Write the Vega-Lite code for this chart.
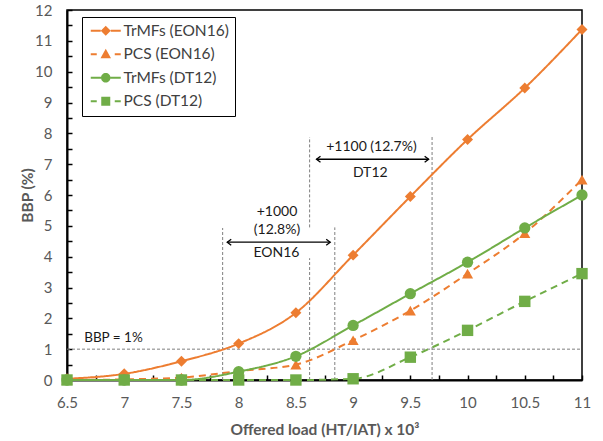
{
  "$schema": "https://vega.github.io/schema/vega-lite/v6.json",
  "width": 515,
  "height": 370,
  "autosize": "none",
  "padding": {"left": 67, "top": 10, "right": 21, "bottom": 61},
  "background": "white",
  "config": {
    "font": "Lato",
    "view": {"stroke": "black", "strokeWidth": 1.5}
  },
  "datasets": {
    "series": [
      {"load": 6.5, "series": "TrMFs (EON16)", "bbp": 0.04},
      {"load": 7, "series": "TrMFs (EON16)", "bbp": 0.2},
      {"load": 7.5, "series": "TrMFs (EON16)", "bbp": 0.61},
      {"load": 8, "series": "TrMFs (EON16)", "bbp": 1.18},
      {"load": 8.5, "series": "TrMFs (EON16)", "bbp": 2.18},
      {"load": 9, "series": "TrMFs (EON16)", "bbp": 4.05},
      {"load": 9.5, "series": "TrMFs (EON16)", "bbp": 5.95},
      {"load": 10, "series": "TrMFs (EON16)", "bbp": 7.8},
      {"load": 10.5, "series": "TrMFs (EON16)", "bbp": 9.47},
      {"load": 11, "series": "TrMFs (EON16)", "bbp": 11.37},
      {"load": 6.5, "series": "PCS (EON16)", "bbp": 0},
      {"load": 7, "series": "PCS (EON16)", "bbp": 0.02},
      {"load": 7.5, "series": "PCS (EON16)", "bbp": 0.08},
      {"load": 8, "series": "PCS (EON16)", "bbp": 0.29},
      {"load": 8.5, "series": "PCS (EON16)", "bbp": 0.5},
      {"load": 9, "series": "PCS (EON16)", "bbp": 1.29},
      {"load": 9.5, "series": "PCS (EON16)", "bbp": 2.25},
      {"load": 10, "series": "PCS (EON16)", "bbp": 3.45},
      {"load": 10.5, "series": "PCS (EON16)", "bbp": 4.76},
      {"load": 11, "series": "PCS (EON16)", "bbp": 6.5},
      {"load": 6.5, "series": "TrMFs (DT12)", "bbp": 0},
      {"load": 7, "series": "TrMFs (DT12)", "bbp": 0},
      {"load": 7.5, "series": "TrMFs (DT12)", "bbp": 0},
      {"load": 8, "series": "TrMFs (DT12)", "bbp": 0.27},
      {"load": 8.5, "series": "TrMFs (DT12)", "bbp": 0.77},
      {"load": 9, "series": "TrMFs (DT12)", "bbp": 1.77},
      {"load": 9.5, "series": "TrMFs (DT12)", "bbp": 2.8},
      {"load": 10, "series": "TrMFs (DT12)", "bbp": 3.82},
      {"load": 10.5, "series": "TrMFs (DT12)", "bbp": 4.93},
      {"load": 11, "series": "TrMFs (DT12)", "bbp": 6.0},
      {"load": 6.5, "series": "PCS (DT12)", "bbp": 0},
      {"load": 7, "series": "PCS (DT12)", "bbp": 0},
      {"load": 7.5, "series": "PCS (DT12)", "bbp": 0},
      {"load": 8, "series": "PCS (DT12)", "bbp": 0},
      {"load": 8.5, "series": "PCS (DT12)", "bbp": 0},
      {"load": 9, "series": "PCS (DT12)", "bbp": 0.04},
      {"load": 9.5, "series": "PCS (DT12)", "bbp": 0.74},
      {"load": 10, "series": "PCS (DT12)", "bbp": 1.61},
      {"load": 10.5, "series": "PCS (DT12)", "bbp": 2.55},
      {"load": 11, "series": "PCS (DT12)", "bbp": 3.45}
    ],
    "hline": [{"load": 6.5, "load2": 11, "bbp": 1}],
    "vlines": [
      {"load": 7.86, "bbp": 0, "bbp2": 4.93},
      {"load": 8.62, "bbp": 0, "bbp2": 3.95},
      {"load": 8.62, "bbp": 4.95, "bbp2": 7.88},
      {"load": 8.84, "bbp": 0, "bbp2": 4.95},
      {"load": 9.69, "bbp": 0, "bbp2": 7.93}
    ],
    "arrows": [
      {"load": 7.9, "load2": 8.8, "bbp": 4.47},
      {"load": 8.68, "load2": 9.66, "bbp": 7.16}
    ],
    "notes": [
      {"load": 8.335, "bbp": 5.45, "note": "+1000"},
      {"load": 8.335, "bbp": 4.85, "note": "(12.8%)"},
      {"load": 8.33, "bbp": 4.11, "note": "EON16"},
      {"load": 9.16, "bbp": 7.56, "note": "+1100 (12.7%)"},
      {"load": 9.15, "bbp": 6.71, "note": "DT12"}
    ],
    "bbpnote": [{"load": 6.65, "bbp": 1.35, "note": "BBP = 1%"}]
  },
  "encoding": {
    "x": {
      "field": "load",
      "type": "quantitative",
      "scale": {"domain": [6.5, 11], "nice": false, "zero": false},
      "axis": {
        "title": "Offered load (HT/IAT) x 10³",
        "values": [6.5, 6.75, 7, 7.25, 7.5, 7.75, 8, 8.25, 8.5, 8.75, 9, 9.25, 9.5, 9.75, 10, 10.25, 10.5, 10.75, 11],
        "labelExpr": "datum.value % 0.5 === 0 ? datum.value + '' : ''",
        "grid": false,
        "tickSize": -5,
        "tickColor": "black",
        "tickWidth": 1.5,
        "domainColor": "black",
        "domainWidth": 2,
        "labelFontSize": 15,
        "labelColor": "#595959",
        "labelPadding": 20,
        "labelFlush": false,
        "labelOverlap": false,
        "labelBound": false,
        "titleFontSize": 15.5,
        "titleFontWeight": "bold",
        "titleColor": "#595959",
        "titlePadding": 12
      }
    },
    "y": {
      "field": "bbp",
      "type": "quantitative",
      "scale": {"domain": [0, 12], "nice": false},
      "axis": {
        "title": "BBP (%)",
        "values": [0, 0.5, 1, 1.5, 2, 2.5, 3, 3.5, 4, 4.5, 5, 5.5, 6, 6.5, 7, 7.5, 8, 8.5, 9, 9.5, 10, 10.5, 11, 11.5, 12],
        "labelExpr": "datum.value % 1 === 0 ? datum.value + '' : ''",
        "grid": false,
        "tickSize": -5,
        "tickColor": "black",
        "tickWidth": 1.5,
        "domainColor": "black",
        "domainWidth": 2,
        "labelFontSize": 15,
        "labelColor": "#595959",
        "labelPadding": 20,
        "labelFlush": false,
        "labelOverlap": false,
        "labelBound": false,
        "titleFontSize": 15.5,
        "titleFontWeight": "bold",
        "titleColor": "#595959",
        "titlePadding": -1
      }
    }
  },
  "layer": [
    {
      "data": {"name": "hline"},
      "mark": {"type": "rule", "color": "#7f7f7f", "strokeWidth": 1, "strokeDash": [3, 2]},
      "encoding": {"x2": {"field": "load2"}}
    },
    {
      "data": {"name": "vlines"},
      "mark": {"type": "rule", "color": "#7f7f7f", "strokeWidth": 1, "strokeDash": [3, 2]},
      "encoding": {"y2": {"field": "bbp2"}}
    },
    {
      "data": {"name": "arrows"},
      "mark": {"type": "rule", "color": "black", "strokeWidth": 1.3},
      "encoding": {"x2": {"field": "load2"}}
    },
    {
      "data": {"name": "arrows"},
      "mark": {"type": "point", "shape": "M1,-0.75L0,0L1,0.75", "size": 64, "filled": false, "stroke": "black", "strokeWidth": 1.3, "opacity": 1},
      "encoding": {}
    },
    {
      "data": {"name": "arrows"},
      "mark": {"type": "point", "shape": "M-1,-0.75L0,0L-1,0.75", "size": 64, "filled": false, "stroke": "black", "strokeWidth": 1.3, "opacity": 1},
      "encoding": {"x": {"field": "load2", "type": "quantitative"}}
    },
    {
      "data": {"name": "notes"},
      "mark": {"type": "text", "fontSize": 14, "color": "#1a1a1a", "align": "center", "baseline": "middle"},
      "encoding": {"text": {"field": "note"}}
    },
    {
      "data": {"name": "bbpnote"},
      "mark": {"type": "text", "fontSize": 13.5, "color": "#1a1a1a", "align": "left", "baseline": "middle"},
      "encoding": {"text": {"field": "note"}}
    },
    {
      "data": {"name": "series"},
      "mark": {"type": "line", "strokeWidth": 2, "interpolate": "monotone"},
      "encoding": {
        "color": {
          "field": "series",
          "type": "nominal",
          "scale": {"domain": ["TrMFs (EON16)", "PCS (EON16)", "TrMFs (DT12)", "PCS (DT12)"], "range": ["#ED7D31", "#ED7D31", "#70AD47", "#70AD47"]},
          "legend": null
        },
        "strokeDash": {
          "field": "series",
          "type": "nominal",
          "scale": {"domain": ["TrMFs (EON16)", "PCS (EON16)", "TrMFs (DT12)", "PCS (DT12)"], "range": [[1, 0], [7, 5], [1, 0], [7, 5]]},
          "legend": null
        }
      }
    },
    {
      "data": {"name": "series"},
      "mark": {"type": "point", "filled": true, "opacity": 1, "strokeWidth": 0},
      "encoding": {
        "color": {"field": "series", "type": "nominal", "legend": null},
        "shape": {
          "field": "series",
          "type": "nominal",
          "scale": {"domain": ["TrMFs (EON16)", "PCS (EON16)", "TrMFs (DT12)", "PCS (DT12)"], "range": ["diamond", "triangle-up", "circle", "square"]},
          "legend": null
        },
        "size": {
          "field": "series",
          "type": "nominal",
          "scale": {"domain": ["TrMFs (EON16)", "PCS (EON16)", "TrMFs (DT12)", "PCS (DT12)"], "range": [120, 130, 100, 92]},
          "legend": null
        }
      }
    },
    {
      "data": {"name": "series"},
      "mark": {"type": "point", "filled": true, "opacity": 0},
      "encoding": {
        "shape": {
          "field": "series",
          "type": "nominal",
          "scale": {
            "domain": ["TrMFs (EON16)", "PCS (EON16)", "TrMFs (DT12)", "PCS (DT12)"],
            "range": [
              "M-1,-0.2L1,-0.2L1,0.2L-1,0.2ZM3,-0.2L5,-0.2L5,0.2L3,0.2ZM2,-1L3,0L2,1L1,0Z",
              "M-1,-0.2L0.2,-0.2L0.2,0.2L-1,0.2ZM3.8,-0.2L5,-0.2L5,0.2L3.8,0.2ZM2,-1.1L3.05,0.8L0.95,0.8Z",
              "M-1,-0.2L1.05,-0.2L1.05,0.2L-1,0.2ZM2.95,-0.2L5,-0.2L5,0.2L2.95,0.2ZM2.95,0A0.95,0.95 0 1,1 1.05,0A0.95,0.95 0 1,1 2.95,0Z",
              "M-1,-0.2L0.2,-0.2L0.2,0.2L-1,0.2ZM3.8,-0.2L5,-0.2L5,0.2L3.8,0.2ZM1.1,-0.9L2.9,-0.9L2.9,0.9L1.1,0.9Z"
            ]
          },
          "legend": {
            "title": null,
            "orient": "none",
            "legendX": 15,
            "legendY": 7,
            "padding": 6,
            "fillColor": "white",
            "strokeColor": "black",
            "symbolSize": 100,
            "symbolStrokeWidth": 0,
            "symbolOpacity": 1,
            "labelOffset": 20,
            "labelFontSize": 15.5,
            "labelColor": "#404040",
            "rowPadding": 6.5,
            "encoding": {
              "symbols": {
                "fill": {"condition": {"test": "indexof(datum.value, 'EON16') >= 0", "value": "#ED7D31"}, "value": "#70AD47"},
                "opacity": {"value": 1},
                "strokeWidth": {"value": 0}
              }
            }
          }
        }
      }
    }
  ],
  "resolve": {"scale": {"shape": "independent"}}
}
